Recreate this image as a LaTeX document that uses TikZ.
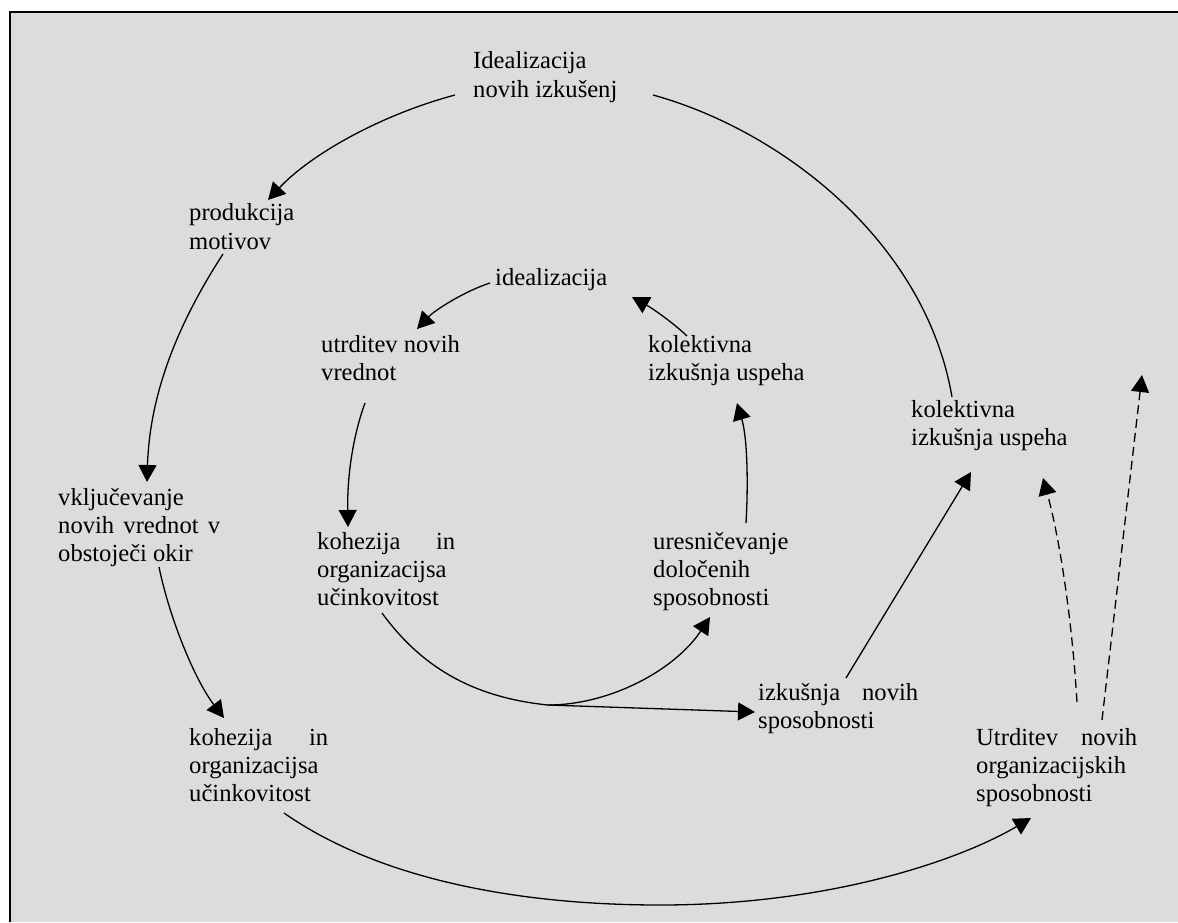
\documentclass[tikz,border=0pt]{standalone}
\usepackage{fontspec}
\setmainfont{Liberation Serif}
\usetikzlibrary{arrows.meta}
\definecolor{panel}{HTML}{DCDCDC}
\tikzset{
  lbl/.style={anchor=base west, inner sep=0pt, font=\fontsize{24.6}{28}\selectfont},
  lblwide/.style={lbl, font=\fontsize{24.6}{29}\selectfont},
  plain/.style={line width=1.3pt},
  conn/.style={plain, -{Triangle[length=17pt,width=18pt]}},
  dashedconn/.style={conn, dash pattern=on 9pt off 5pt},
}
\begin{document}
\begin{tikzpicture}[x=1pt,y=-1pt]
\useasboundingbox (0,0) rectangle (1178,922);
\fill[white] (0,0) rectangle (1178,922);
\fill[panel] (10,12) rectangle (1178,922);
\draw[line width=2pt] (10,922) -- (10,12) -- (1178,12);

% outer cycle
\node[lblwide] (top) at (473,68) {\vtop{\hbox{Idealizacija}\hbox{novih izkušenj}}};
\node[lblwide] (prod) at (189,220) {\vtop{\hbox{produkcija}\hbox{motivov}}};
\node[lbl] (vklj) at (58,505) {\vtop{\hbox{vključevanje}\hbox to 162pt{novih\hfill vrednot\hfill v}\hbox{obstoječi okir}}};
\node[lbl] (kohO) at (189,745) {\vtop{\hbox to 139pt{kohezija\hfill in}\hbox{organizacijsa}\hbox{učinkovitost}}};
\node[lbl] (utrdO) at (976,745) {\vtop{\hbox to 161pt{Utrditev\hfill novih}\hbox{organizacijskih}\hbox{sposobnosti}}};
\node[lbl] (kolO) at (911,417) {\vtop{\hbox{kolektivna}\hbox{izkušnja uspeha}}};
\node[lbl] (izk) at (758,700) {\vtop{\hbox to 160pt{izkušnja\hfill novih}\hbox{sposobnosti}}};

% inner cycle
\node[lbl] (ideal) at (495,285) {idealizacija};
\node[lbl] (utrd) at (321,352) {\vtop{\hbox{utrditev novih}\hbox{vrednot}}};
\node[lbl] (kohI) at (317,549) {\vtop{\hbox to 138pt{kohezija\hfill in}\hbox{organizacijsa}\hbox{učinkovitost}}};
\node[lbl] (ures) at (653,549) {\vtop{\hbox{uresničevanje}\hbox{določenih}\hbox{sposobnosti}}};
\node[lbl] (kolI) at (648,352) {\vtop{\hbox{kolektivna}\hbox{izkušnja uspeha}}};

\coordinate (split) at (548,705);
\coordinate (up) at (1142,375);

% outer connectors
\draw[conn] ([shift={(-18,27)}]top.base west) .. controls (380,115) and (310,155) .. ([shift={(79,-20)}]prod.base west);
\draw[conn] ([shift={(34,34)}]prod.base west) .. controls (190,305) and (150,380) .. ([shift={(89,-23)}]vklj.base west);
\draw[conn] ([shift={(101,62)}]vklj.base west) .. controls (170,620) and (195,680) .. ([shift={(35,-27)}]kohO.base west);
\draw[conn] ([shift={(95,68)}]kohO.base west) .. controls (380,880) and (520,905) .. (660,905) .. controls (830,905) and (960,860) .. ([shift={(55,73)}]utrdO.base west);
\draw[plain] ([shift={(180,27)}]top.base west) .. controls (780,130) and (925,240) .. ([shift={(41,-20)}]kolO.base west);
\draw[conn] ([shift={(88,-22)}]izk.base west) -- ([shift={(60,55)}]kolO.base west);
\draw[dashedconn] ([shift={(101,-43)}]utrdO.base west) .. controls (1072,620) and (1060,540) .. ([shift={(132,61)}]kolO.base west);
\draw[dashedconn] ([shift={(126,-25)}]utrdO.base west) -- (up);

% inner connectors
\draw[conn] ([shift={(-5,-2)}]ideal.base west) .. controls (465,291) and (435,310) .. ([shift={(96,-23)}]utrd.base west);
\draw[conn] ([shift={(44,51)}]utrd.base west) .. controls (355,430) and (347,470) .. ([shift={(31,-22)}]kohI.base west);
\draw[conn] ([shift={(65,64)}]kohI.base west) .. controls (420,665) and (470,697) .. (split) .. controls (610,705) and (675,670) .. ([shift={(57,68)}]ures.base west);
\draw[conn] (split) -- ([shift={(-3,12)}]izk.base west);
\draw[conn] ([shift={(93,-26)}]ures.base west) .. controls (748,490) and (748,440) .. ([shift={(89,51)}]kolI.base west);
\draw[conn] ([shift={(39,-16)}]kolI.base west) .. controls (670,320) and (650,307) .. ([shift={(137,12)}]ideal.base west);
\end{tikzpicture}
\end{document}
